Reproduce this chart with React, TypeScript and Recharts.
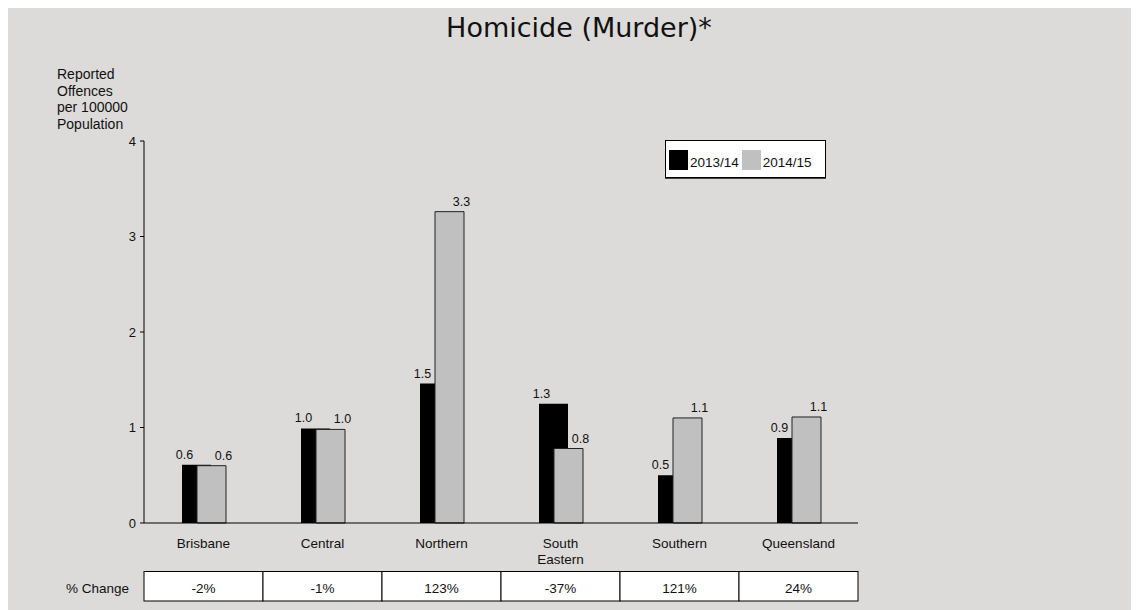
import { BarChart, Bar, XAxis, YAxis, Legend, LabelList } from 'recharts';

const categories = ['Brisbane', 'Central', 'Northern', 'South Eastern', 'Southern', 'Queensland'];
const rate1314 = [0.61, 0.99, 1.46, 1.25, 0.5, 0.89];
const rate1415 = [0.6, 0.98, 3.26, 0.78, 1.1, 1.11];
const pctChange = ['-2%', '-1%', '123%', '-37%', '121%', '24%'];
const yTicks = [0, 1, 2, 3, 4];
const seriesNames = ['2013/14', '2014/15'];

const data = categories.map((name, i) => ({
  name,
  y1314: rate1314[i],
  y1415: rate1415[i],
  pct: pctChange[i],
}));

const W = 1130;
const H = 602;
const MARGIN = { top: 133, right: 280, bottom: 7, left: 96 };
const Y_W = 40;
const BAND = (W - MARGIN.left - MARGIN.right - Y_W) / categories.length;
const FONT = '"Liberation Sans", Arial, sans-serif';
const BLACK = '#000000';
const GREY = '#c0c0c0';

function CategoryTick(props: any) {
  const { x, y, payload, index } = props;
  const words = String(payload.value).split(' ');
  const cellLeft = x - BAND / 2;
  return (
    <g>
      {words.map((w: string, i: number) => (
        <text key={i} x={x} y={y + 25 + i * 16} textAnchor="middle" fontSize={13.5} fill="#111">
          {w}
        </text>
      ))}
      <rect x={cellLeft} y={y + 48.5} width={BAND} height={29.5} fill="#fff" stroke="#000" strokeWidth={1} />
      <text x={x} y={y + 69.5} textAnchor="middle" fontSize={13.5} fill="#111">
        {pctChange[index]}
      </text>
      {index === 0 && (
        <text x={cellLeft - 15} y={y + 69.5} textAnchor="end" fontSize={13.5} fill="#111">
          % Change
        </text>
      )}
    </g>
  );
}

const barLabel = (dx: number) => (props: any) => {
  const { x, y, width, value } = props;
  return (
    <text
      x={Number(x) + Number(width) / 2 + dx}
      y={Number(y) - 6}
      textAnchor="middle"
      fontSize={12.5}
      fill="#111"
    >
      {Number(value).toFixed(1)}
    </text>
  );
};

function LegendBox() {
  const colors = [BLACK, GREY];
  return (
    <div
      style={{
        background: '#fff',
        border: '1px solid #000',
        boxShadow: '0 1px 0 #444',
        width: 156,
        height: 36,
        boxSizing: 'content-box',
        display: 'flex',
        alignItems: 'flex-start',
        paddingLeft: 3,
        fontFamily: FONT,
        fontSize: 13.5,
        color: '#111',
      }}
    >
      {seriesNames.map((s, i) => (
        <div key={s} style={{ display: 'flex', alignItems: 'flex-end', marginTop: 9, marginRight: 3 }}>
          <span style={{ display: 'inline-block', width: 19, height: 20, background: colors[i] }} />
          <span style={{ marginLeft: 2, lineHeight: '15px' }}>{s}</span>
        </div>
      ))}
    </div>
  );
}

export default function App() {
  return (
    <div style={{ width: W, height: H, background: '#dcdbd9' }}>
      <BarChart
        width={W}
        height={H}
        data={data}
        margin={MARGIN}
        barSize={29}
        barGap={-14}
        style={{ fontFamily: FONT }}
      >
        <text x={571} y={29} textAnchor="middle" fontSize={27} fill="#111" fontFamily='"DejaVu Sans", sans-serif'>
          Homicide (Murder)*
        </text>
        <text x={49} y={71} fontSize={14} fill="#111">
          <tspan x={49}>Reported</tspan>
          <tspan x={49} dy={16.7}>Offences</tspan>
          <tspan x={49} dy={16.7}>per 100000</tspan>
          <tspan x={49} dy={16.7}>Population</tspan>
        </text>
        <XAxis
          dataKey="name"
          height={80}
          axisLine={{ stroke: '#000' }}
          tickLine={false}
          tickSize={0}
          tickMargin={0}
          interval={0}
          tick={<CategoryTick />}
        />
        <YAxis
          width={Y_W}
          domain={[0, 4]}
          ticks={yTicks}
          axisLine={{ stroke: '#000' }}
          tickLine={{ stroke: '#000' }}
          tickSize={4}
          tickMargin={4}
          tick={{ fontSize: 13, fill: '#111' }}
        />
        <Legend
          layout="horizontal"
          verticalAlign="middle"
          align="center"
          wrapperStyle={{ left: 657, top: 132, width: 160 }}
          content={() => <LegendBox />}
        />
        <Bar dataKey="y1314" name={seriesNames[0]} fill={BLACK} isAnimationActive={false}>
          <LabelList dataKey="y1314" content={barLabel(-12)} />
        </Bar>
        <Bar dataKey="y1415" name={seriesNames[1]} fill={GREY} stroke="#222" strokeWidth={1} isAnimationActive={false}>
          <LabelList dataKey="y1415" content={barLabel(12)} />
        </Bar>
      </BarChart>
    </div>
  );
}
